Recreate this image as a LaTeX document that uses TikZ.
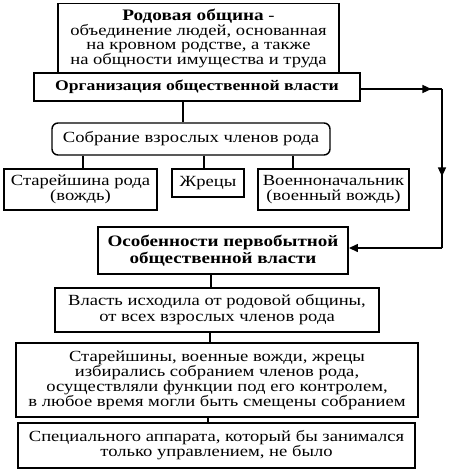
\documentclass[tikz,border=0pt]{standalone}
\usepackage{fontspec}
\setmainfont{Liberation Serif}[FakeStretch=1.2]
\usetikzlibrary{decorations.markings,arrows.meta}
\begin{document}
\begin{tikzpicture}[x=1pt,y=-1pt,
  box/.style={draw=black,line width=1.4pt,align=center,inner sep=0pt,
    font=\fontsize{15.5}{15}\selectfont},
  thick box/.style={box,line width=1.9pt},
  conn/.style={line width=1.4pt},
  tip/.style={-{Triangle[length=9pt,width=8pt]}},
  midtip/.style={decoration={markings,mark=at position #1 with {\arrow{Triangle[length=9pt,width=8pt]}}},postaction={decorate}}
]
\useasboundingbox (0,0) rectangle (449,473);
\node[thick box,minimum width=281pt,minimum height=70pt,font=\fontsize{15.5}{14.5}\selectfont] (rod) at (198.5,38.5)
  {{\fontsize{16}{14.5}\selectfont\textbf{Родовая община}} -\\объединение людей, основанная\\на кровном родстве, а также\\на общности имущества и труда};
\node[thick box,minimum width=326pt,minimum height=28pt,font=\fontsize{14.7}{15}\selectfont\bfseries,fill=white] (org) at (197,87)
  {Организация общественной власти};
\node[box,rounded corners=6pt,minimum width=278pt,minimum height=32pt] (sob) at (191,139)
  {Собрание взрослых членов рода};
\node[box,minimum width=153pt,minimum height=41pt] (sta) at (80.5,189.5)
  {Старейшина рода\\(вождь)};
\node[box,minimum width=72pt,minimum height=28pt] (zhr) at (208,183)
  {Жрецы};
\node[box,minimum width=151pt,minimum height=41pt] (voe) at (333.5,189.5)
  {Военноначальник\\(военный вождь)};
\node[thick box,minimum width=250pt,minimum height=47pt,font=\fontsize{15.9}{16.5}\selectfont\bfseries] (oso) at (223,250.5)
  {Особенности первобытной\\общественной власти};
\node[box,minimum width=324pt,minimum height=44pt,font=\fontsize{15.5}{16}\selectfont] (vla) at (217,310)
  {Власть исходила от родовой общины,\\от всех взрослых членов рода};
\node[box,minimum width=402pt,minimum height=74pt] (stn) at (217,380)
  {Старейшины, военные вожди, жрецы\\избирались собранием членов рода,\\осуществляли функции под его контролем,\\в любое время могли быть смещены собранием};
\node[box,minimum width=397pt,minimum height=45pt] (spe) at (216.5,445.5)
  {Специального аппарата, который бы занимался\\только управлением, не было};
% connectors
\draw[conn] (org.south -| 183,0) -- (sob.north -| 183,0);
\draw[conn] (sob.south -| 83,0) -- (sta.north -| 83,0);
\draw[conn] (sob.south -| 204,0) -- (zhr.north -| 204,0);
\draw[conn] (sob.south -| 293,0) -- (voe.north -| 293,0);
\draw[conn] (oso.south -| 211,0) -- (vla.north -| 211,0);
\draw[conn] (vla.south -| 210,0) -- (stn.north -| 210,0);
\draw[conn] (stn.south -| 208,0) -- (spe.north -| 208,0);
\coordinate (c1) at (442,89);
\coordinate (c2) at (442,248);
\draw[conn,midtip=0.87] (org.east |- c1) -- (c1);
\draw[conn,midtip=0.55] (c1) -- (c2);
\draw[conn,tip] (c2) -- (oso.east |- c2);
\end{tikzpicture}
\end{document}
